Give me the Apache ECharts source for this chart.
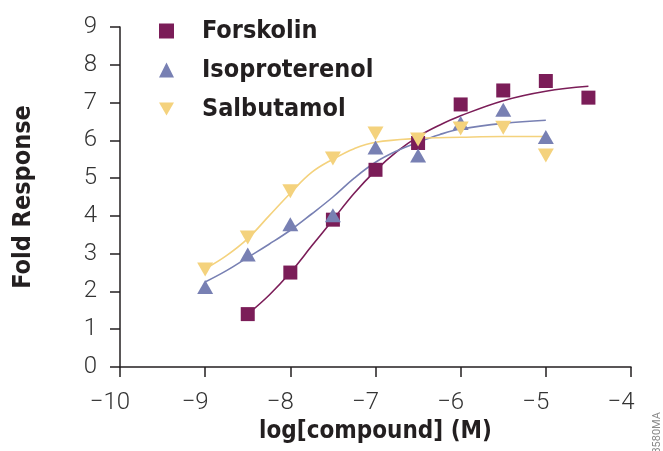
<!DOCTYPE html>
<html>
<head>
<meta charset="utf-8">
<script src="https://cdn.jsdelivr.net/npm/echarts@6/dist/echarts.min.js"></script>
<style>
  html, body { margin: 0; padding: 0; background: #fff; }
  #main { width: 663px; height: 451px; }
</style>
</head>
<body>
<div id="main"></div>
<script>
// measured points
const forskolinX = [-8.5, -8, -7.5, -7, -6.5, -6, -5.5, -5, -4.5]
const forskolinY = [1.40, 2.50, 3.90, 5.22, 5.93, 6.95, 7.32, 7.57, 7.13]
const isoX = [-9, -8.5, -8, -7.5, -7, -6.5, -6, -5.5, -5]
const isoY = [2.12, 2.98, 3.78, 4.02, 5.81, 5.60, 6.46, 6.81, 6.09]
const salbX = [-9, -8.5, -8, -7.5, -7, -6.5, -6, -5.5, -5]
const salbY = [2.58, 3.43, 4.65, 5.52, 6.18, 6.02, 6.31, 6.33, 5.60]

// fitted curves
const forskolinFitX = [-8.5, -8.25, -8, -7.75, -7.5, -7.25, -7, -6.75, -6.5, -6.25, -6, -5.5, -5, -4.5]
const forskolinFitY = [1.40, 1.90, 2.50, 3.20, 3.90, 4.60, 5.20, 5.70, 6.10, 6.40, 6.65, 7.05, 7.30, 7.43]
const isoFitX = [-9, -8.75, -8.5, -8.25, -8, -7.75, -7.5, -7.25, -7, -6.75, -6.5, -6.25, -6, -5.5, -5]
const isoFitY = [2.25, 2.55, 2.90, 3.25, 3.62, 4.05, 4.50, 5.00, 5.42, 5.72, 5.95, 6.15, 6.30, 6.45, 6.53]
const salbFitX = [-9, -8.75, -8.5, -8.25, -8, -7.75, -7.5, -7.25, -7, -6.5, -6, -5.5, -5]
const salbFitY = [2.60, 2.95, 3.40, 4.00, 4.60, 5.15, 5.50, 5.78, 5.95, 6.05, 6.08, 6.10, 6.10]

const names = ['Forskolin', 'Isoproterenol', 'Salbutamol']
const colors = ['#7b1d58', '#7880b3', '#f4d27d']
const xTicks = [-10, -9, -8, -7, -6, -5, -4]

const zip = (xs, ys) => xs.map((x, i) => [x, ys[i]])
const downTri = 'path://M0,0 L16,0 L8,14 Z'
const labelFont = 'Roboto, "Liberation Sans", sans-serif'
const boldFont = '"DejaVu Sans Condensed", "Liberation Sans", sans-serif'

const chart = echarts.init(document.getElementById('main'), null, { renderer: 'canvas' })

const fit = (name, data, color) => ({
  name: name + ' fit',
  type: 'line',
  data,
  smooth: 0.4,
  showSymbol: false,
  symbol: 'none',
  silent: true,
  lineStyle: { color, width: 1.6 },
  z: 1
})

const dots = (name, data, color, symbol, size) => ({
  name,
  type: 'scatter',
  data,
  symbol,
  symbolSize: size,
  itemStyle: { color, opacity: 1 },
  z: 3
})

chart.setOption({
  animation: false,
  backgroundColor: '#ffffff',
  grid: { left: 120, right: 32, top: 27, bottom: 84 },
  legend: {
    orient: 'vertical',
    left: 154,
    top: 11,
    itemWidth: 15,
    itemHeight: 15,
    itemGap: 9,
    data: [
      { name: names[0], icon: 'rect' },
      { name: names[1], icon: 'triangle' },
      { name: names[2], icon: downTri }
    ],
    textStyle: {
      fontFamily: boldFont,
      fontWeight: 'bold',
      fontSize: 25,
      lineHeight: 30,
      color: '#231f20',
      padding: [0, 0, 0, 23]
    }
  },
  xAxis: {
    type: 'value',
    min: -10,
    max: -4,
    interval: 1,
    name: 'log[compound] (M)',
    nameLocation: 'middle',
    nameGap: 52,
    nameTextStyle: { fontFamily: boldFont, fontWeight: 'bold', fontSize: 24, color: '#231f20' },
    axisLine: { onZero: false, lineStyle: { color: '#231f20', width: 1.5 } },
    axisTick: { show: true, inside: false, length: 10, lineStyle: { color: '#231f20', width: 1.5 } },
    splitLine: { show: false },
    axisLabel: {
      margin: 24,
      fontFamily: labelFont,
      fontWeight: 300,
      fontSize: 24,
      color: '#333',
      padding: [0, 20, 0, 0],
      formatter: v => xTicks.includes(v) ? String(v).replace('-', '\u2212') : ''
    }
  },
  yAxis: {
    type: 'value',
    min: 0,
    max: 9,
    interval: 1,
    name: 'Fold Response',
    nameLocation: 'middle',
    nameRotate: 90,
    nameGap: 84,
    nameTextStyle: { fontFamily: boldFont, fontWeight: 'bold', fontSize: 25, color: '#231f20' },
    axisLine: { show: true, onZero: false, lineStyle: { color: '#231f20', width: 1.5 } },
    axisTick: { show: true, inside: false, length: 10, lineStyle: { color: '#231f20', width: 1.5 } },
    splitLine: { show: false },
    axisLabel: {
      margin: 23,
      fontFamily: labelFont,
      fontWeight: 300,
      fontSize: 24,
      color: '#333'
    }
  },
  graphic: [
    {
      type: 'text',
      left: 652,
      top: 412,
      rotation: Math.PI / 2,
      style: { text: '3580MA', fontSize: 11, fill: '#888', fontFamily: labelFont }
    }
  ],
  series: [
    fit(names[0], zip(forskolinFitX, forskolinFitY), colors[0]),
    fit(names[1], zip(isoFitX, isoFitY), colors[1]),
    fit(names[2], zip(salbFitX, salbFitY), colors[2]),
    dots(names[0], zip(forskolinX, forskolinY), colors[0], 'rect', 14),
    dots(names[1], zip(isoX, isoY), colors[1], 'triangle', [16, 14]),
    dots(names[2], zip(salbX, salbY), colors[2], downTri, [16, 14])
  ]
})
</script>
</body>
</html>
